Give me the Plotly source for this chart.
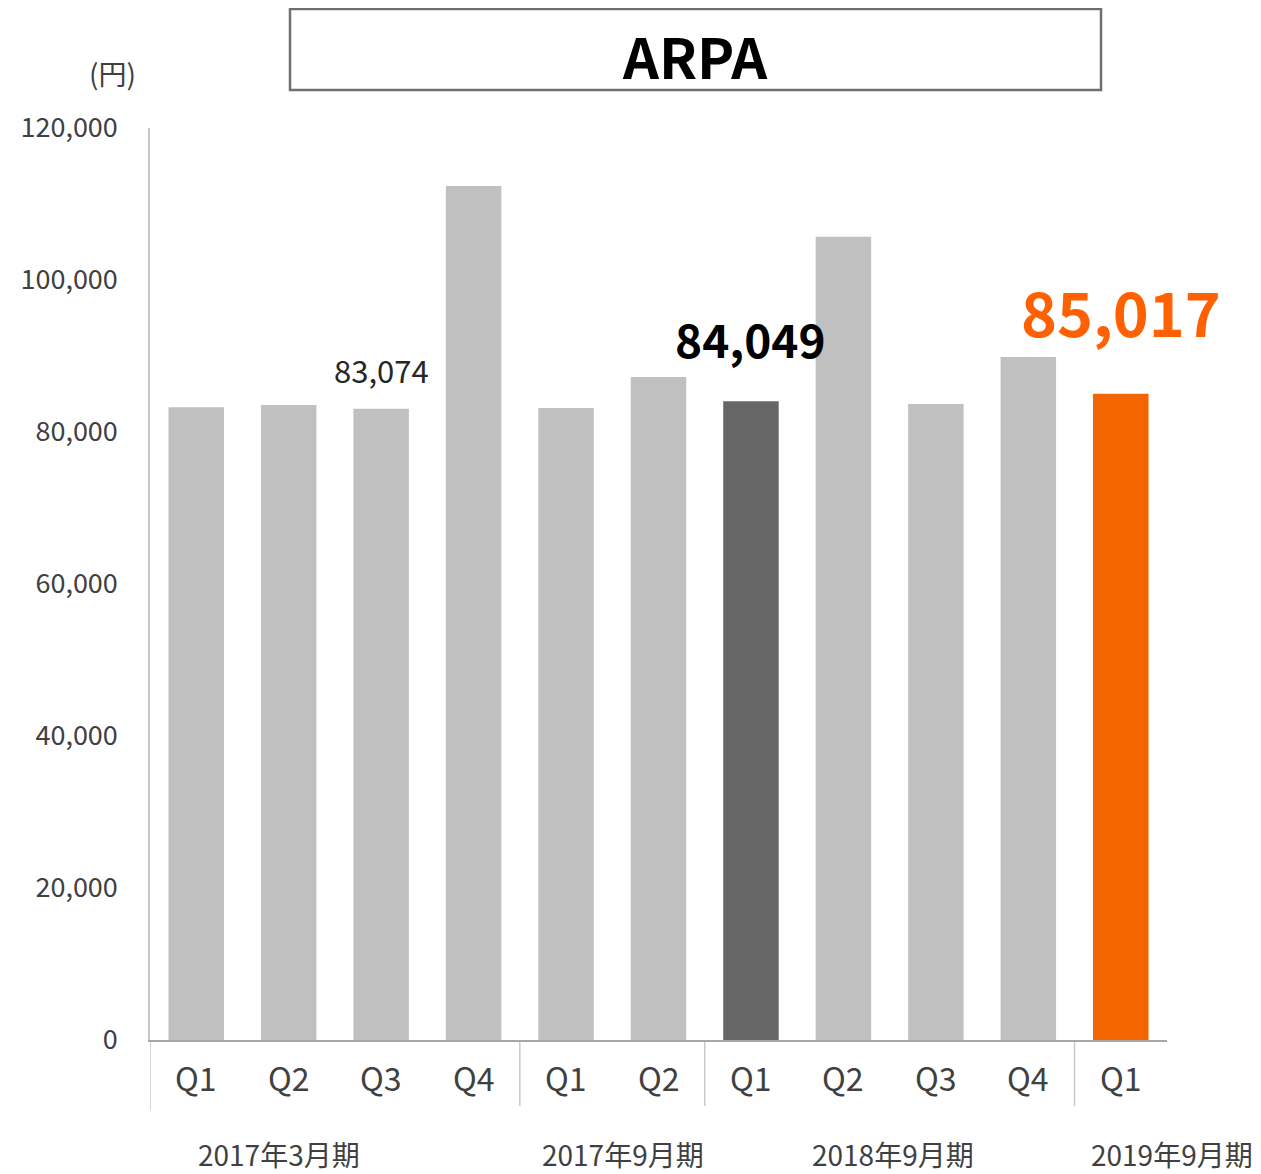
import plotly.graph_objects as go

quarters = ["Q1", "Q2", "Q3", "Q4", "Q1", "Q2", "Q1", "Q2", "Q3", "Q4", "Q1"]
arpa = [83250, 83550, 83074, 112370, 83160, 87240, 84049, 105700, 83680, 89870, 85017]
bar_colors = ["#c0c0c0"] * 6 + ["#666666"] + ["#c0c0c0"] * 3 + ["#f26500"]
periods = ["2017年3月期", "2017年9月期", "2018年9月期", "2019年9月期"]
period_label_x = [0.89, 4.62, 7.54, 10.55]
divider_x = [-0.5, 3.5, 5.5, 9.5]
y_ticks = [0, 20000, 40000, 60000, 80000, 100000, 120000]

FONT = "Noto Sans CJK JP"
x = list(range(len(arpa)))
N = len(arpa)

# page body has an 8px margin: plot area must sit at x 150..1167, y 128..1040 in window
PX0, PX1, PY0, PY1 = 150, 1167, 128, 1040


def px_to_paper_x(px):
    return (px - PX0) / (PX1 - PX0)


def px_to_paper_y(py):
    return (PY1 - py) / (PY1 - PY0)


def data_to_paper_x(v):
    return (v + 0.5) / N


fig = go.Figure()
fig.add_trace(go.Bar(x=x, y=arpa, marker=dict(color=bar_colors, line=dict(width=0)),
                     width=0.6, hoverinfo="skip"))

fig.update_layout(
    width=1253, height=1166,
    margin=dict(l=142, r=94, t=120, b=134, autoexpand=False),
    paper_bgcolor="white", plot_bgcolor="white",
    showlegend=False,
    font=dict(family=FONT, color="#404040"),
    xaxis=dict(range=[-0.5, 10.5], showticklabels=False, showgrid=False, zeroline=False,
               showline=True, linecolor="#a6a6a6", linewidth=2, ticks="", automargin=False),
    yaxis=dict(range=[0, 120000], tickvals=y_ticks, tickformat=",", showgrid=False,
               zeroline=False, showline=True, linecolor="#c8c8c8", linewidth=1.5,
               ticks="", tickfont=dict(size=27, color="#404040", family=FONT),
               ticklabelstandoff=25, automargin=False),
)

ann = []
for i, q in enumerate(quarters):
    ann.append(dict(x=data_to_paper_x(i), y=px_to_paper_y(1077), xref="paper", yref="paper",
                    text=q, showarrow=False, xanchor="center", yanchor="middle",
                    font=dict(size=32, color="#404040", family=FONT)))
for pxv, p in zip(period_label_x, periods):
    ann.append(dict(x=data_to_paper_x(pxv), y=px_to_paper_y(1154), xref="paper", yref="paper",
                    text=p, showarrow=False, xanchor="center", yanchor="middle",
                    font=dict(size=28, color="#404040", family=FONT)))
ann.append(dict(x=2, y=arpa[2], xref="x", yref="y", text=f"{arpa[2]:,}", showarrow=False,
                xanchor="center", yanchor="middle", yshift=39,
                font=dict(size=31, color="#262626", family=FONT)))
ann.append(dict(x=6, y=arpa[6], xref="x", yref="y", text=f"<b>{arpa[6]:,}</b>", showarrow=False,
                xanchor="center", yanchor="middle", yshift=63,
                font=dict(size=46, color="#000000", family=FONT)))
ann.append(dict(x=10, y=arpa[10], xref="x", yref="y", text=f"<b>{arpa[10]:,}</b>", showarrow=False,
                xanchor="center", yanchor="middle", yshift=83,
                font=dict(size=61, color="#ff6000", family=FONT)))
ann.append(dict(x=px_to_paper_x(112), y=px_to_paper_y(73), xref="paper", yref="paper",
                text="(円)", showarrow=False, xanchor="center", yanchor="middle",
                font=dict(size=28, color="#404040", family=FONT)))
ann.append(dict(x=px_to_paper_x(695), y=px_to_paper_y(55), xref="paper", yref="paper",
                text="<b>ARPA</b>", showarrow=False, xanchor="center", yanchor="middle",
                font=dict(size=56, color="#000000", family=FONT)))
fig.update_layout(annotations=ann)

shapes = []
for k, dx in enumerate(divider_x):
    bottom = 1110 if k == 0 else 1106
    shapes.append(dict(type="line", xref="x", yref="paper", x0=dx, x1=dx,
                       y0=px_to_paper_y(1042), y1=px_to_paper_y(bottom),
                       line=dict(color="#c8c8c8", width=1.5)))
shapes.append(dict(type="rect", xref="paper", yref="paper",
                   x0=px_to_paper_x(290), x1=px_to_paper_x(1101),
                   y0=px_to_paper_y(90), y1=px_to_paper_y(9),
                   line=dict(color="#6f6f6f", width=2.5), fillcolor="rgba(0,0,0,0)"))
fig.update_layout(shapes=shapes)

fig.write_html("out.html")
